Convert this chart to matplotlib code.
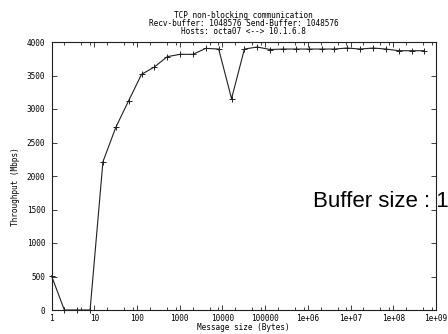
import numpy as np
import matplotlib
matplotlib.use("Agg")
import matplotlib.pyplot as plt
from matplotlib.ticker import LogLocator, FixedLocator, FixedFormatter, NullFormatter

# message sizes (bytes) and measured throughput (Mbps)
msg_size = [1, 2, 4, 8, 16, 32, 64, 128, 256, 512, 1024, 2048, 4096, 8192,
            16384, 32768, 65536, 131072, 262144, 524288, 1048576, 2097152,
            4194304, 8388608, 16777216, 33554432, 67108864, 134217728,
            268435456, 536870912]
throughput = [510, 0, 0, 0, 2213, 2726, 3124, 3517, 3627, 3781, 3816, 3816,
              3905, 3895, 3154, 3895, 3925, 3888, 3895, 3895, 3895, 3895,
              3895, 3910, 3895, 3910, 3895, 3870, 3870, 3870]

xtick_vals = [1, 10, 100, 1000, 10000, 100000, 1e6, 1e7, 1e8, 1e9]
xtick_labels = ["1", "10", "100", "1000", "10000", "100000",
                "1e+06", "1e+07", "1e+08", "1e+09"]
ytick_vals = [0, 500, 1000, 1500, 2000, 2500, 3000, 3500, 4000]

mono = "DejaVu Sans Mono"
fs = 5.6

fig = plt.figure(figsize=(4.48, 3.34), dpi=100)
ax = fig.add_axes([51.5/448, 24/334, (436-51.5)/448, (310-42)/334])

ax.plot(msg_size, throughput, color="#202020", lw=0.8, marker="+",
        markersize=4, markeredgewidth=0.7, clip_on=False, zorder=3)

ax.set_xscale("log")
ax.set_xlim(1, 1e9)
ax.set_ylim(0, 4000)
ax.xaxis.set_major_locator(FixedLocator(xtick_vals))
ax.xaxis.set_major_formatter(FixedFormatter(xtick_labels))
ax.xaxis.set_minor_locator(LogLocator(base=10, subs=(2, 5, 8), numticks=20))
ax.xaxis.set_minor_formatter(NullFormatter())
ax.set_yticks(ytick_vals)
ax.set_yticklabels([str(v) for v in ytick_vals])

ax.tick_params(which="both", direction="in", top=True, right=True,
               labelsize=fs, width=0.6, color="#202020")
ax.tick_params(which="major", length=3.5)
ax.tick_params(which="minor", length=2)
ax.tick_params(axis="y", pad=4.5)
ax.tick_params(axis="x", pad=3)
for lab in ax.get_xticklabels() + ax.get_yticklabels():
    lab.set_family(mono)
for s in ax.spines.values():
    s.set_linewidth(0.8)
    s.set_color("#202020")

fig.text(243.7/448, 1 - 15/334, "TCP non-blocking communication",
         ha="center", va="center", fontsize=fs, family=mono)
fig.text(243.7/448, 1 - 23.3/334, "Recv-buffer: 1048576 Send-Buffer: 1048576",
         ha="center", va="center", fontsize=fs, family=mono)
fig.text(243.7/448, 1 - 31.7/334, "Hosts: octa07 <--> 10.1.6.8",
         ha="center", va="center", fontsize=fs, family=mono)

fig.text(243.7/448, 1 - 328/334, "Message size (Bytes)",
         ha="center", va="center", fontsize=fs, family=mono)
fig.text(15/448, 1 - 186.7/334, "Throughput (Mbps)", rotation=90,
         ha="center", va="center", fontsize=fs, family=mono)

fig.text(313/448, 1 - 207/334, "Buffer size : 1",
         ha="left", va="baseline", fontsize=16, family="Liberation Sans")

fig.savefig("out.png", dpi=100)
